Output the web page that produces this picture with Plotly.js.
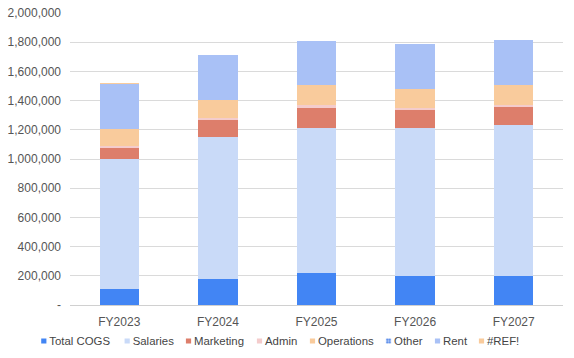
<!DOCTYPE html>
<html>
<head>
<meta charset="utf-8">
<script src="https://cdn.plot.ly/plotly-3.0.1.min.js"></script>
<style>html,body{margin:0;padding:0;background:#fff;}#chart{width:574px;height:358px;}</style>
</head>
<body>
<div id="chart"></div>
<script>
const categories = ['FY2023', 'FY2024', 'FY2025', 'FY2026', 'FY2027'];
const totalCOGS  = [110000, 180000, 221000, 200000, 200000];
const salaries   = [890000, 970000, 993000, 1014000, 1035000];
const marketing  = [75000, 116000, 137000, 124000, 123000];
const admin      = [14000, 14000, 16000, 13000, 9000];
const operations = [116000, 125000, 137000, 130000, 137000];
const other      = [0, 0, 0, 0, 0];
const rent       = [310000, 306000, 305000, 308000, 308000];
const refErr     = [5000, 0, 0, 0, 0];

const yTickVals = [0, 200000, 400000, 600000, 800000, 1000000, 1200000, 1400000, 1600000, 1800000, 2000000];
const yTickText = ['-', '200,000', '400,000', '600,000', '800,000', '1,000,000', '1,200,000', '1,400,000', '1,600,000', '1,800,000', '2,000,000'];

const seriesNames = ['Total COGS', 'Salaries', 'Marketing', 'Admin', 'Operations', 'Other', 'Rent', '#REF!'];
const seriesData = [totalCOGS, salaries, marketing, admin, operations, other, rent, refErr];
const seriesColors = ['#4285F4', '#C9DAF8', '#DD7E6B', '#F4CCCC', '#F9CB9C', '#C9DAF8', '#A9C1F6', '#F9CB9C'];
const patterns = [null, null, null, null, null,
  {shape: '.', fgcolor: '#4A80E8', bgcolor: '#C9DAF8', size: 3, solidity: 0.5},
  null,
  null];

// legend placement (paper x of each legend box)
const legendX = [-0.1231, 0.0460, 0.1704, 0.3144, 0.4219, 0.5761, 0.6755, 0.7647];

const FONT = 'Arial, "Liberation Sans", sans-serif';

const traces = seriesNames.map((name, i) => {
  const marker = {color: seriesColors[i], line: {width: 0}};
  if (patterns[i]) marker.pattern = patterns[i];
  return {
    type: 'bar',
    name: name,
    x: categories,
    y: seriesData[i],
    marker: marker,
    legend: i === 0 ? 'legend' : 'legend' + (i + 1),
    hoverinfo: 'x+y+name'
  };
});

const layout = {
  width: 574,
  height: 358,
  margin: {l: 70, r: 11, t: 13, b: 53, pad: 0, autoexpand: false},
  paper_bgcolor: '#ffffff',
  plot_bgcolor: '#ffffff',
  barmode: 'stack',
  bargap: 0.6,
  font: {family: FONT, size: 12, color: '#555555'},
  xaxis: {
    type: 'category',
    showgrid: false,
    showline: true,
    linecolor: '#d0d0d0',
    linewidth: 1,
    ticks: '',
    tickfont: {family: FONT, size: 12, color: '#555555'},
    ticklabelstandoff: 6
  },
  yaxis: {
    range: [0, 2000000],
    tickvals: yTickVals,
    ticktext: yTickText,
    showgrid: true,
    gridcolor: '#dadada',
    gridwidth: 1,
    zeroline: true,
    zerolinecolor: '#d0d0d0',
    zerolinewidth: 1,
    ticks: '',
    tickfont: {family: FONT, size: 12, color: '#555555'},
    ticklabelstandoff: 8
  },
  showlegend: true
};

legendX.forEach((lx, i) => {
  const key = i === 0 ? 'legend' : 'legend' + (i + 1);
  layout[key] = {
    x: lx, xanchor: 'left',
    y: -0.1233, yanchor: 'middle',
    orientation: 'h',
    bgcolor: 'rgba(0,0,0,0)',
    borderwidth: 0,
    font: {family: FONT, size: 11.4, color: '#444444'},
    itemclick: false, itemdoubleclick: false
  };
});

Plotly.newPlot('chart', traces, layout, {displayModeBar: false, staticPlot: true}).then(gd => {
  // compact Sheets-style legend swatches next to their labels
  gd.querySelectorAll('.legendpoints path').forEach(p => {
    p.setAttribute('d', 'M2.6,2.6H-2.6V-2.6H2.6Z');
    p.setAttribute('transform', 'translate(34.5,0)');
  });
});
</script>
</body>
</html>
